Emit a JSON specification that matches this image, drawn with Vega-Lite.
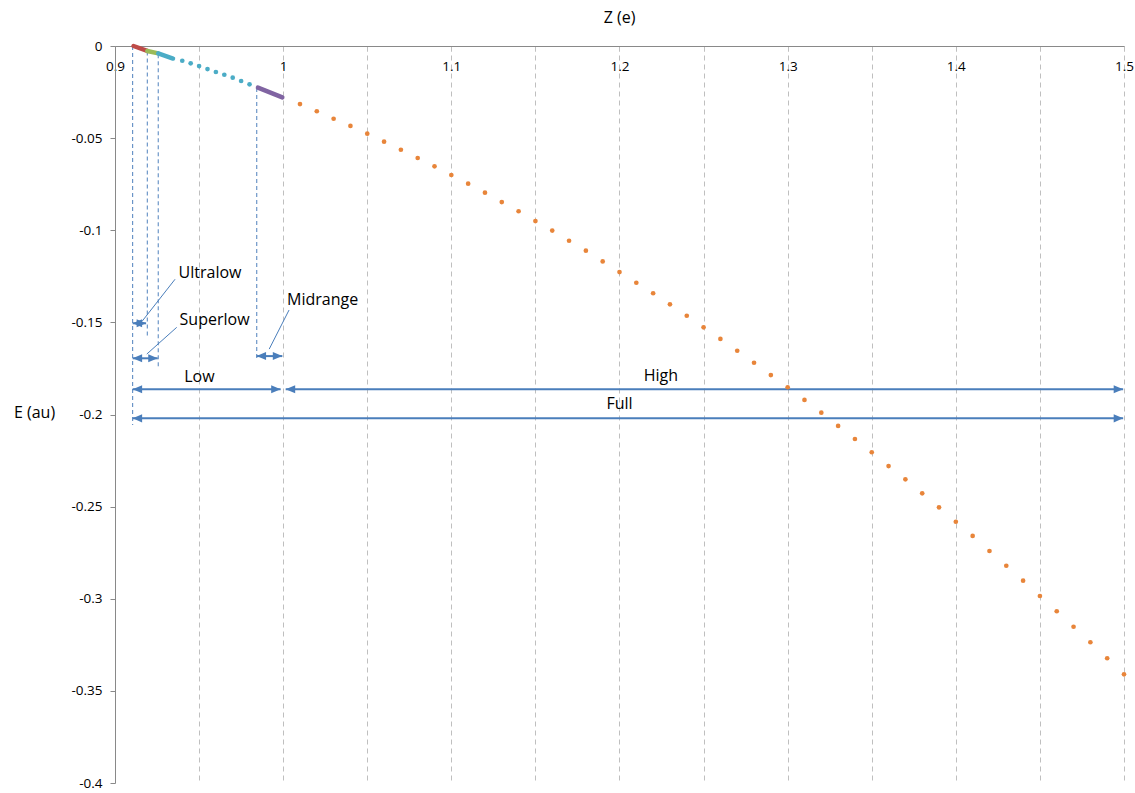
{
  "$schema": "https://vega.github.io/schema/vega-lite/v6.json",
  "width": 1009,
  "height": 737,
  "autosize": {"type": "none"},
  "padding": {"left": 115, "top": 46, "right": 11, "bottom": 10},
  "background": "white",
  "config": {"view": {"stroke": null}, "font": "Open Sans"},
  "title": {"text": "Z (e)", "fontSize": 16, "fontWeight": "normal", "color": "#000000", "font": "Open Sans", "offset": 11, "anchor": "middle", "frame": "group"},
  "datasets": {
    "dots": [
      {"s": "low", "z": 0.940, "e": -0.0080},
      {"s": "low", "z": 0.945, "e": -0.0094},
      {"s": "low", "z": 0.950, "e": -0.0109},
      {"s": "low", "z": 0.955, "e": -0.0125},
      {"s": "low", "z": 0.960, "e": -0.0141},
      {"s": "low", "z": 0.965, "e": -0.0156},
      {"s": "low", "z": 0.970, "e": -0.0172},
      {"s": "low", "z": 0.975, "e": -0.0190},
      {"s": "low", "z": 0.980, "e": -0.0208},
      {"s": "high", "z": 1.01, "e": -0.0315},
      {"s": "high", "z": 1.02, "e": -0.0354},
      {"s": "high", "z": 1.03, "e": -0.0395},
      {"s": "high", "z": 1.04, "e": -0.0434},
      {"s": "high", "z": 1.05, "e": -0.0476},
      {"s": "high", "z": 1.06, "e": -0.0519},
      {"s": "high", "z": 1.07, "e": -0.0563},
      {"s": "high", "z": 1.08, "e": -0.0608},
      {"s": "high", "z": 1.09, "e": -0.0653},
      {"s": "high", "z": 1.10, "e": -0.0700},
      {"s": "high", "z": 1.11, "e": -0.0747},
      {"s": "high", "z": 1.12, "e": -0.0796},
      {"s": "high", "z": 1.13, "e": -0.0847},
      {"s": "high", "z": 1.14, "e": -0.0897},
      {"s": "high", "z": 1.15, "e": -0.0950},
      {"s": "high", "z": 1.16, "e": -0.1002},
      {"s": "high", "z": 1.17, "e": -0.1057},
      {"s": "high", "z": 1.18, "e": -0.1111},
      {"s": "high", "z": 1.19, "e": -0.1169},
      {"s": "high", "z": 1.20, "e": -0.1227},
      {"s": "high", "z": 1.21, "e": -0.1285},
      {"s": "high", "z": 1.22, "e": -0.1342},
      {"s": "high", "z": 1.23, "e": -0.1402},
      {"s": "high", "z": 1.24, "e": -0.1464},
      {"s": "high", "z": 1.25, "e": -0.1527},
      {"s": "high", "z": 1.26, "e": -0.1590},
      {"s": "high", "z": 1.27, "e": -0.1654},
      {"s": "high", "z": 1.28, "e": -0.1719},
      {"s": "high", "z": 1.29, "e": -0.1786},
      {"s": "high", "z": 1.30, "e": -0.1852},
      {"s": "high", "z": 1.31, "e": -0.1921},
      {"s": "high", "z": 1.32, "e": -0.1990},
      {"s": "high", "z": 1.33, "e": -0.2062},
      {"s": "high", "z": 1.34, "e": -0.2133},
      {"s": "high", "z": 1.35, "e": -0.2205},
      {"s": "high", "z": 1.36, "e": -0.2280},
      {"s": "high", "z": 1.37, "e": -0.2352},
      {"s": "high", "z": 1.38, "e": -0.2428},
      {"s": "high", "z": 1.39, "e": -0.2504},
      {"s": "high", "z": 1.40, "e": -0.2582},
      {"s": "high", "z": 1.41, "e": -0.2659},
      {"s": "high", "z": 1.42, "e": -0.2741},
      {"s": "high", "z": 1.43, "e": -0.2821},
      {"s": "high", "z": 1.44, "e": -0.2902},
      {"s": "high", "z": 1.45, "e": -0.2985},
      {"s": "high", "z": 1.46, "e": -0.3068},
      {"s": "high", "z": 1.47, "e": -0.3152},
      {"s": "high", "z": 1.48, "e": -0.3236},
      {"s": "high", "z": 1.49, "e": -0.3323},
      {"s": "high", "z": 1.50, "e": -0.3410}
    ],
    "segments": [
      {"s": "ultralow", "z": 0.9110, "e": 0.0},
      {"s": "ultralow", "z": 0.9192, "e": -0.0027},
      {"s": "superlow", "z": 0.9192, "e": -0.0027},
      {"s": "superlow", "z": 0.9257, "e": -0.0040},
      {"s": "low", "z": 0.9257, "e": -0.0040},
      {"s": "low", "z": 0.9345, "e": -0.0068},
      {"s": "midrange", "z": 0.9850, "e": -0.0226},
      {"s": "midrange", "z": 0.9995, "e": -0.0279}
    ],
    "boundaries": [
      {"z": 0.9105, "e": 0.0, "e2": -0.2057},
      {"z": 0.9192, "e": -0.0030, "e2": -0.1578},
      {"z": 0.9257, "e": -0.0045, "e2": -0.1740},
      {"z": 0.9843, "e": -0.0228, "e2": -0.1695}
    ],
    "ranges": [
      {"name": "Ultralow", "z": 0.9105, "z2": 0.9185, "e": -0.1505},
      {"name": "Superlow", "z": 0.9105, "z2": 0.9254, "e": -0.1695},
      {"name": "Midrange", "z": 0.9842, "z2": 0.9995, "e": -0.1683},
      {"name": "Low", "z": 0.9105, "z2": 0.9985, "e": -0.1863},
      {"name": "High", "z": 1.0015, "z2": 1.4995, "e": -0.1863},
      {"name": "Full", "z": 0.9105, "z2": 1.4995, "e": -0.2021}
    ],
    "leaders": [
      {"name": "Ultralow", "z": 0.9357, "e": -0.1266, "z2": 0.9162, "e2": -0.1493},
      {"name": "Superlow", "z": 0.9367, "e": -0.1527, "z2": 0.9189, "e2": -0.1672},
      {"name": "Midrange", "z": 1.0035, "e": -0.1433, "z2": 0.9917, "e2": -0.1645}
    ],
    "callouts": [
      {"text": "Ultralow", "z": 0.9378, "e": -0.1232},
      {"text": "Superlow", "z": 0.9384, "e": -0.1487},
      {"text": "Midrange", "z": 1.0023, "e": -0.1381}
    ],
    "rangeLabels": [
      {"text": "Low", "z": 0.9502, "e": -0.1795},
      {"text": "High", "z": 1.2246, "e": -0.1790},
      {"text": "Full", "z": 1.2000, "e": -0.1943}
    ]
  },
  "encoding": {
    "x": {
      "field": "z", "type": "quantitative",
      "scale": {"domain": [0.9, 1.5], "nice": false, "zero": false},
      "axis": {
        "orient": "bottom", "offset": -737, "title": null,
        "values": [0.9, 0.95, 1, 1.05, 1.1, 1.15, 1.2, 1.25, 1.3, 1.35, 1.4, 1.45, 1.5],
        "labelExpr": "round(datum.value*100) % 10 == 0 ? '' + datum.value : ''",
        "grid": true, "gridColor": "#bfbfbf", "gridDash": [5, 4], "gridWidth": 1,
        "domainColor": "#898989", "domainWidth": 1,
        "tickColor": "#bfbfbf", "tickSize": 5,
        "labelFont": "Open Sans", "labelFontSize": 13.5, "labelColor": "#000000",
        "labelPadding": 8, "labelFlush": false, "labelOverlap": false
      }
    },
    "y": {
      "field": "e", "type": "quantitative",
      "scale": {"domain": [-0.4, 0], "nice": false, "zero": false},
      "axis": {
        "title": "E (au)",
        "values": [0, -0.05, -0.1, -0.15, -0.2, -0.25, -0.3, -0.35, -0.4],
        "labelExpr": "'' + datum.value",
        "grid": false,
        "domainColor": "#898989", "domainWidth": 1,
        "tickColor": "#898989", "tickSize": 5,
        "labelFont": "Open Sans", "labelFontSize": 13.5, "labelColor": "#000000",
        "labelPadding": 8, "labelFlush": false, "labelOverlap": false,
        "titleFont": "Open Sans", "titleFontSize": 16, "titleFontWeight": "normal", "titleColor": "#000000",
        "titleAngle": 0, "titleAlign": "center", "titleBaseline": "middle",
        "titleX": -81, "titleY": 366
      }
    }
  },
  "layer": [
    {
      "data": {"name": "boundaries"},
      "mark": {"type": "rule", "color": "#4f81bd", "strokeWidth": 1, "strokeDash": [4, 3]},
      "encoding": {"y2": {"field": "e2"}}
    },
    {
      "data": {"name": "ranges"},
      "mark": {"type": "rule", "color": "#4a7ebb", "strokeWidth": 2},
      "encoding": {"x2": {"field": "z2"}}
    },
    {
      "data": {"name": "ranges"},
      "transform": [{"fold": ["z", "z2"], "as": ["end", "z"]}],
      "mark": {"type": "point", "size": 90, "filled": true, "opacity": 1, "color": "#4a7ebb", "strokeWidth": 0},
      "encoding": {
        "shape": {"field": "end", "type": "nominal", "legend": null,
          "scale": {"domain": ["z", "z2"], "range": ["M0,0L2,-0.85L2,0.85Z", "M0,0L-2,-0.85L-2,0.85Z"]}}
      }
    },
    {
      "data": {"name": "leaders"},
      "mark": {"type": "rule", "color": "#4a7ebb", "strokeWidth": 1},
      "encoding": {"x2": {"field": "z2"}, "y2": {"field": "e2"}}
    },
    {
      "data": {"name": "callouts"},
      "mark": {"type": "text", "align": "left", "baseline": "middle", "font": "Open Sans", "fontSize": 16, "color": "#000000"},
      "encoding": {"text": {"field": "text"}}
    },
    {
      "data": {"name": "rangeLabels"},
      "mark": {"type": "text", "align": "center", "baseline": "middle", "font": "Open Sans", "fontSize": 16, "color": "#000000"},
      "encoding": {"text": {"field": "text"}}
    },
    {
      "data": {"name": "segments"},
      "mark": {"type": "line", "strokeWidth": 4.5, "strokeCap": "round"},
      "encoding": {
        "detail": {"field": "s"},
        "color": {"field": "s", "type": "nominal", "legend": null,
          "scale": {"domain": ["ultralow", "superlow", "low", "midrange", "high"], "range": ["#be4b48", "#9bbb59", "#4bacc6", "#8064a2", "#e8853a"]}}
      }
    },
    {
      "data": {"name": "dots"},
      "mark": {"type": "point", "shape": "circle", "filled": true, "opacity": 1, "size": 22, "strokeWidth": 0},
      "encoding": {
        "color": {"field": "s", "type": "nominal", "legend": null,
          "scale": {"domain": ["ultralow", "superlow", "low", "midrange", "high"], "range": ["#be4b48", "#9bbb59", "#4bacc6", "#8064a2", "#e8853a"]}}
      }
    }
  ]
}
